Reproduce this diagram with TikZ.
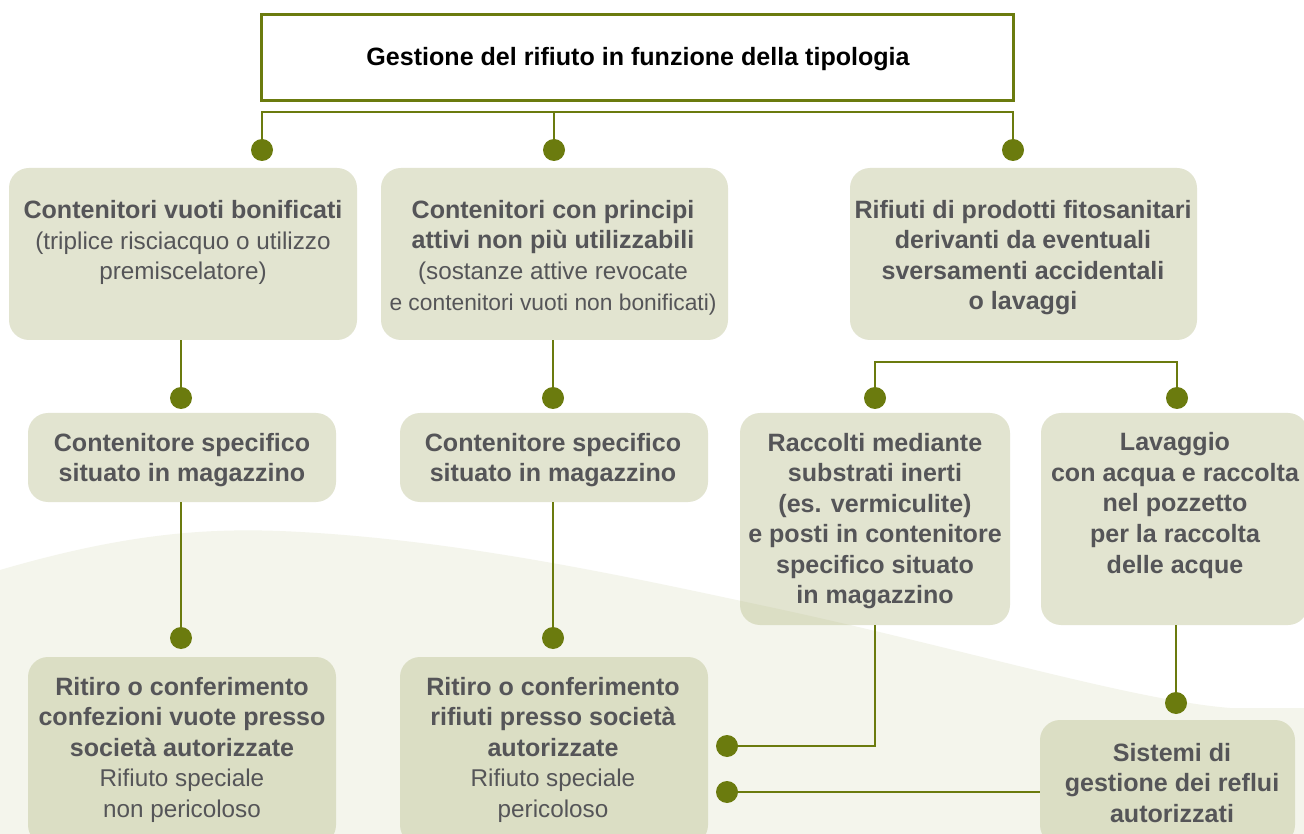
\documentclass[tikz,border=0pt]{standalone}
\usepackage{fontspec}
\setmainfont{Liberation Sans}
\usetikzlibrary{calc}
\definecolor{linec}{RGB}{107,123,14}
\definecolor{boxc}{RGB}{183,188,138}
\definecolor{wavec}{RGB}{244,245,236}
\definecolor{txtc}{RGB}{85,85,88}
\newcommand{\lt}[1]{{\fontsize{18.2}{22.9}\selectfont #1}}
\newcommand{\ltn}[1]{{\fontsize{17.1}{22.9}\selectfont #1}}
\begin{document}
\begin{tikzpicture}[x=0.75pt,y=-0.75pt,
  box/.style={rectangle, rounded corners=15pt, fill=boxc, fill opacity=0.4, draw=none, inner sep=0pt},
  txt/.style={align=center, text=txtc, font=\fontsize{18.8}{22.9}\selectfont, inner sep=0pt},
  btxt/.style={txt, font=\fontsize{18.8}{22.9}\selectfont\bfseries},
  dot/.style={circle, fill=linec, minimum size=16.5pt, inner sep=0pt},
  conn/.style={draw=linec, line width=2pt}]
\useasboundingbox (0,0) rectangle (1304,834);
\clip (0,0) rectangle (1304,834);
\fill[white] (0,0) rectangle (1304,834);
% background wave
\fill[wavec] (0,570) .. controls (120,535) and (200,528) .. (280,531)
  .. controls (450,538) and (620,575) .. (760,605)
  .. controls (950,645) and (1130,700) .. (1230,708)
  -- (1304,708) -- (1304,834) -- (0,834) -- cycle;
% top box
\node[draw=linec, line width=2.25pt, fill=white, minimum width=564pt, minimum height=64.5pt, inner sep=0pt] (top) at (637,58) {};
\node[font=\fontsize{18.8}{22.9}\selectfont\bfseries, inner sep=0pt] (toptxt) at (638,59.5) {Gestione del rifiuto in funzione della tipologia};
% boxes
\node[box, minimum width=261pt, minimum height=129pt] (b1) at (183,254) {};
\node[box, minimum width=260.25pt, minimum height=129pt] (b2) at (554.5,254) {};
\node[box, minimum width=260.25pt, minimum height=129pt] (b3) at (1023.5,254) {};
\node[box, minimum width=231pt, minimum height=66.75pt] (b4) at (182,457.5) {};
\node[box, minimum width=231pt, minimum height=66.75pt] (b5) at (554,457.5) {};
\node[box, minimum width=202.5pt, minimum height=159pt] (b6) at (875,519) {};
\node[box, minimum width=200.25pt, minimum height=159pt] (b7) at (1174.5,519) {};
\node[box, minimum width=231pt, minimum height=141pt] (b8) at (182,751) {};
\node[box, minimum width=231pt, minimum height=141pt] (b9) at (554,751) {};
\node[box, minimum width=191.25pt, minimum height=93.75pt] (b10) at (1167.5,782.5) {};
% dots
\node[dot] (d1) at (262,150) {};
\node[dot] (d2) at (554,150) {};
\node[dot] (d3) at (1013,150) {};
\node[dot] (d4) at (181,398) {};
\node[dot] (d5) at (553,398) {};
\node[dot] (d6) at (875,398) {};
\node[dot] (d7) at (1177,398) {};
\node[dot] (d8) at (181,638) {};
\node[dot] (d9) at (553,638) {};
\node[dot] (d10) at (1176,703) {};
\node[dot] (d11) at (727,746) {};
\node[dot] (d12) at (727,792) {};
% bus coordinates
\coordinate (busl) at (262,112);
\coordinate (busm) at (554,112);
\coordinate (busr) at (1013,112);
\coordinate (brl) at (875,362);
\coordinate (brr) at (1177,362);
% connectors
\draw[conn] (d1.center) -- (busl) -- (busr) -- (d3.center);
\draw[conn] (busm) -- (d2.center);
\draw[conn] (d6.center) -- (brl) -- (brr) -- (d7.center);
\draw[conn] (d4 |- b1.south) -- (d4.center);
\draw[conn] (d5 |- b2.south) -- (d5.center);
\draw[conn] (d8 |- b4.south) -- (d8.center);
\draw[conn] (d9 |- b5.south) -- (d9.center);
\draw[conn] (d10 |- b7.south) -- (d10.center);
\draw[conn] (b6.south) |- (d11.center);
\draw[conn] (b10.west |- d12) -- (d12.center);
% texts
\node[txt] (t1) at (183,242.5) {\textbf{Contenitori vuoti bonificati}\\\lt{(triplice risciacquo o utilizzo}\\\lt{premiscelatore)}};
\node[txt] (t2) at (553,257.5) {\textbf{Contenitori con principi}\\\textbf{attivi non più utilizzabili}\\\lt{(sostanze attive revocate}\\\ltn{e contenitori vuoti non bonificati)}};
\node[btxt] (t3) at (1023,257.5) {Rifiuti di prodotti fitosanitari\\derivanti da eventuali\\sversamenti accidentali\\o lavaggi};
\node[btxt] (t4) at (182,460) {Contenitore specifico\\situato in magazzino};
\node[btxt] (t5) at (553,460) {Contenitore specifico\\situato in magazzino};
\node[btxt] (t6) at (875,521) {Raccolti mediante\\substrati inerti\\(es. vermiculite)\\e posti in contenitore\\specifico situato\\in magazzino};
\node[btxt] (t7) at (1175,505.5) {Lavaggio\\con acqua e raccolta\\nel pozzetto\\per la raccolta\\delle acque};
\node[txt] (t8) at (182,749.5) {\textbf{Ritiro o conferimento}\\\textbf{confezioni vuote presso}\\\textbf{società autorizzate}\\\lt{Rifiuto speciale}\\\lt{non pericoloso}};
\node[txt] (t9) at (553,749.5) {\textbf{Ritiro o conferimento}\\\textbf{rifiuti presso società}\\\textbf{autorizzate}\\\lt{Rifiuto speciale}\\\lt{pericoloso}};
\node[btxt] (t10) at (1172,783) {Sistemi di\\gestione dei reflui\\autorizzati};
\end{tikzpicture}
\end{document}
